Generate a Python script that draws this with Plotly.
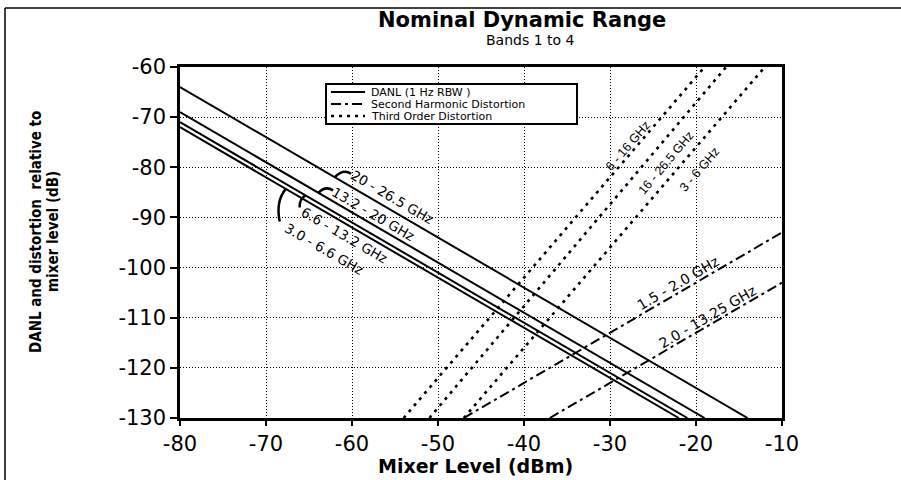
import math
import plotly.graph_objects as go

# ---------------- data ----------------
mixer_range = [-80, -10]
rel_range = [-130, -60]
x_ticks = [-80, -70, -60, -50, -40, -30, -20, -10]
x_tick_text = ["-80", "-70", "-60", "-50", "-40", "-30", "-20", "-10"]
y_ticks = [-60, -70, -80, -90, -100, -110, -120, -130]
y_tick_text = ["-60", "-70", "-80", "-90", "-100", "-110", "-120", "-130"]

# DANL (1 Hz RBW) lines: endpoints (x = mixer level dBm, y = dB rel. mixer level)
danl_labels = ["20 - 26.5 GHz", "13.2 - 20 GHz", "6.6 - 13.2 GHz", "3.0 - 6.6 GHz"]
danl_x = [[-80, -14], [-80, -19], [-80, -21], [-80, -22]]
danl_y = [[-64, -130], [-69, -130], [-71, -130], [-72, -130]]

# Second harmonic distortion lines
shd_labels = ["1.5 - 2.0 GHz", "2.0 - 13.25 GHz"]
shd_x = [[-47, -10], [-37, -10]]
shd_y = [[-130, -93], [-130, -103]]

# Third order distortion lines
tod_labels = ["6 - 16 GHz", "16 - 26.5 GHz", "3 - 6 GHz"]
tod_x = [[-54, -19], [-51, -16.5], [-47, -12]]
tod_y = [[-130, -60], [-130, -60], [-130, -60]]

legend_names = ["DANL (1 Hz RBW )", "Second Harmonic Distortion", "Third Order Distortion"]

# ---------------- layout geometry ----------------
W, H = 901, 480
L, R, T, B = 180, 119, 67, 62
PW, PH = W - L - R, H - T - B

def px(xp):
    return (xp - L) / PW

def py(yp):
    return (H - B - yp) / PH

def line_angle(xs, ys):
    sx = PW / (mixer_range[1] - mixer_range[0])
    sy = PH / (rel_range[1] - rel_range[0])
    dx = (xs[1] - xs[0]) * sx
    dy = (ys[1] - ys[0]) * sy
    return -math.degrees(math.atan2(dy, dx))

FONT = "DejaVu Sans"
COND_FONT = "DejaVu Sans Condensed, Liberation Sans Narrow, Arial Narrow, sans-serif"
LAB_FONT = "Liberation Sans, Arial, sans-serif"

DANL_STYLE = dict(color="black", width=2)
SHD_STYLE = dict(color="black", width=2, dash="10px,4px,3px,4px")
TOD_STYLE = dict(color="black", width=2.6, dash="3px,5px")

fig = go.Figure()
for xs, ys in zip(danl_x, danl_y):
    fig.add_trace(go.Scatter(x=xs, y=ys, mode="lines", line=DANL_STYLE,
                             showlegend=False, hoverinfo="skip"))
for xs, ys in zip(shd_x, shd_y):
    fig.add_trace(go.Scatter(x=xs, y=ys, mode="lines", line=SHD_STYLE,
                             showlegend=False, hoverinfo="skip"))
for xs, ys in zip(tod_x, tod_y):
    fig.add_trace(go.Scatter(x=xs, y=ys, mode="lines", line=TOD_STYLE,
                             showlegend=False, hoverinfo="skip"))

annotations = []
shapes = []

# ---- line labels ----
danl_label_pos = [(-55.3, -85.9), (-57.5, -89.3), (-60.9, -93.5), (-63.2, -96.3)]
shd_label_pos = [(-22.1, -103.0), (-18.7, -109.9)]
tod_label_pos = [(-27.9, -75.8), (-23.5, -79.1), (-19.5, -80.4)]

for lab, (x, y), xs, ys in zip(danl_labels, danl_label_pos, danl_x, danl_y):
    annotations.append(dict(x=x, y=y, xref="x", yref="y", text=lab, showarrow=False,
                            textangle=line_angle(xs, ys),
                            font=dict(family=FONT, size=13.5, color="black")))
for lab, (x, y), xs, ys in zip(shd_labels, shd_label_pos, shd_x, shd_y):
    annotations.append(dict(x=x, y=y, xref="x", yref="y", text=lab, showarrow=False,
                            textangle=line_angle(xs, ys),
                            font=dict(family=FONT, size=14, color="black")))
for lab, (x, y), xs, ys in zip(tod_labels, tod_label_pos, tod_x, tod_y):
    annotations.append(dict(x=x, y=y, xref="x", yref="y", text=lab, showarrow=False,
                            textangle=line_angle(xs, ys),
                            font=dict(family=LAB_FONT, size=12.5, color="black")))

# ---- curved pointers from DANL labels to their lines ----
hooks = [
    ((-60.1, -81.3), (-61.0, -80.2), (-62.0, -81.95)),
    ((-62.2, -84.6), (-63.1, -83.6), (-63.9, -85.1)),
    ((-66.1, -88.0), (-66.1, -86.2), (-65.4, -85.6)),
    ((-68.4, -90.8), (-68.9, -86.8), (-67.7, -84.3)),
]
for (s, c, e) in hooks:
    shapes.append(dict(type="path", xref="x", yref="y",
                       path=f"M {s[0]},{s[1]} Q {c[0]},{c[1]} {e[0]},{e[1]}",
                       line=dict(color="black", width=2.5)))

# ---- manual legend box ----
shapes.append(dict(type="rect", xref="paper", yref="paper",
                   x0=px(326), x1=px(577), y0=py(84), y1=py(124),
                   line=dict(color="black", width=2), fillcolor="white", layer="above"))
leg_rows = [92, 104, 116]
leg_styles = [DANL_STYLE, dict(SHD_STYLE, width=2), dict(TOD_STYLE, width=2.4)]
for name, yy, st in zip(legend_names, leg_rows, leg_styles):
    shapes.append(dict(type="line", xref="paper", yref="paper",
                       x0=px(331), x1=px(365), y0=py(yy), y1=py(yy),
                       line=st, layer="above"))
    annotations.append(dict(x=px(370), y=py(yy), xref="paper", yref="paper",
                            text=name, showarrow=False, xanchor="left", yanchor="middle",
                            borderpad=0,
                            font=dict(family=FONT, size=11, color="black")))

# ---- titles ----
annotations.append(dict(x=px(522), y=py(20), xref="paper", yref="paper",
                        text="<b>Nominal Dynamic Range</b>", showarrow=False,
                        xanchor="center", yanchor="middle", borderpad=0,
                        font=dict(family=FONT, size=21, color="black")))
annotations.append(dict(x=px(530), y=py(40), xref="paper", yref="paper",
                        text="Bands 1 to 4", showarrow=False,
                        xanchor="center", yanchor="middle", borderpad=0,
                        font=dict(family=FONT, size=14, color="black")))
annotations.append(dict(x=px(475), y=py(466), xref="paper", yref="paper",
                        text="<b>Mixer Level (dBm)</b>", showarrow=False,
                        xanchor="center", yanchor="middle",
                        font=dict(family=FONT, size=19, color="black")))
annotations.append(dict(x=px(36), y=py(232), xref="paper", yref="paper",
                        text="<b>DANL and distortion \u00a0relative to</b>", showarrow=False,
                        textangle=-90, xanchor="center", yanchor="middle",
                        font=dict(family=COND_FONT, size=15, color="black")))
annotations.append(dict(x=px(53), y=py(232), xref="paper", yref="paper",
                        text="<b>mixer level (dB)</b>", showarrow=False,
                        textangle=-90, xanchor="center", yanchor="middle",
                        font=dict(family=COND_FONT, size=15, color="black")))

# ---- outer frame (left and top edges visible) ----
shapes.append(dict(type="line", xref="paper", yref="paper",
                   x0=px(5), x1=px(5), y0=py(8), y1=py(490),
                   line=dict(color="black", width=1.5)))
shapes.append(dict(type="line", xref="paper", yref="paper",
                   x0=px(5), x1=px(910), y0=py(8), y1=py(8),
                   line=dict(color="black", width=1.5)))

axis_common = dict(
    showgrid=True, gridcolor="black", gridwidth=1, griddash="1px,2px",
    showline=True, linecolor="black", linewidth=2.5, mirror=True,
    ticks="outside", tickcolor="black", tickwidth=1.5,
    zeroline=False, tickfont=dict(family=FONT, size=21, color="black"),
)

fig.update_layout(
    width=W, height=H,
    margin=dict(l=L, r=R, t=T, b=B),
    paper_bgcolor="white", plot_bgcolor="white",
    showlegend=False,
    xaxis=dict(range=mixer_range, tickvals=x_ticks, ticktext=x_tick_text,
               ticklen=5, **axis_common),
    yaxis=dict(range=rel_range, tickvals=y_ticks, ticktext=y_tick_text,
               ticklen=7, **axis_common),
    annotations=annotations,
    shapes=shapes,
)

fig.write_html("out.html")
